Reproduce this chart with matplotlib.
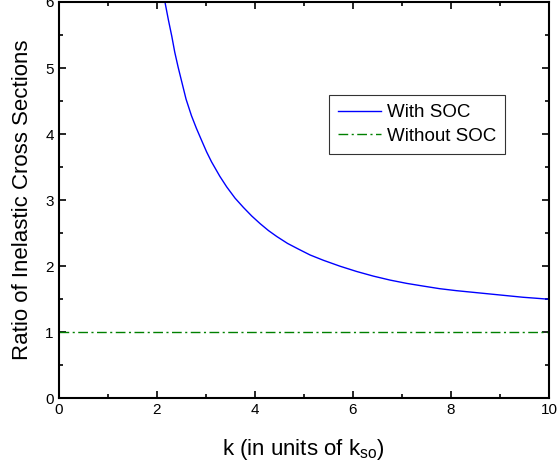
import matplotlib
matplotlib.use('Agg')
import matplotlib.pyplot as plt
from matplotlib.ticker import MultipleLocator

plt.rcParams['font.family'] = ['Liberation Sans', 'DejaVu Sans']

# values
k_soc = [2.17, 2.24, 2.31, 2.37, 2.44, 2.52, 2.60, 2.71, 2.81, 2.92, 3.02,
         3.12, 3.29, 3.43, 3.60, 3.77, 3.94, 4.11, 4.28, 4.45, 4.67, 4.89,
         5.13, 5.40, 5.74, 6.08, 6.42, 6.76, 7.10, 7.43, 7.77, 8.11, 8.45,
         8.79, 9.13, 9.47, 9.74, 10.0]
ratio_soc = [6.00, 5.73, 5.48, 5.24, 5.01, 4.77, 4.53, 4.28, 4.09, 3.90, 3.73,
             3.58, 3.36, 3.20, 3.03, 2.89, 2.76, 2.645, 2.54, 2.45, 2.345, 2.26,
             2.17, 2.09, 2.00, 1.92, 1.85, 1.79, 1.74, 1.70, 1.66, 1.63, 1.605,
             1.58, 1.555, 1.53, 1.515, 1.50]
k_nosoc = [0.0, 10.0]
ratio_nosoc = [1.0, 1.0]

fig = plt.figure(figsize=(5.59, 4.65), dpi=100)
ax = fig.add_axes([0.1047, 0.1434, 0.8773, 0.8523])

ax.plot(k_soc, ratio_soc, color='#0000ff', lw=1.0, label='With SOC')
ax.plot(k_nosoc, ratio_nosoc, color='#008000', lw=1.0, dashes=(7, 2.5, 1.5, 2.5),
        label='Without SOC')

ax.set_xlim(0, 10)
ax.set_ylim(0, 6)
ax.xaxis.set_major_locator(MultipleLocator(2))
ax.xaxis.set_minor_locator(MultipleLocator(1))
ax.yaxis.set_major_locator(MultipleLocator(1))
ax.yaxis.set_minor_locator(MultipleLocator(0.5))
ax.tick_params(which='both', direction='in', top=True, right=True,
               labelsize=11, width=1.2)
ax.tick_params(which='major', length=5)
ax.tick_params(which='minor', length=3)
for s in ax.spines.values():
    s.set_linewidth(1.5)

ax.set_xlabel(r'k (in units of k$_{\mathregular{so}}$)', fontsize=16, labelpad=14)
ax.set_ylabel('Ratio of Inelastic Cross Sections', fontsize=16, labelpad=9)

leg = ax.legend(loc='upper left', bbox_to_anchor=(0.551, 0.766), fontsize=13.5,
                frameon=True, fancybox=False, edgecolor='black',
                handlelength=2.3, handletextpad=0.3, borderpad=0.5,
                labelspacing=0.35, borderaxespad=0)
leg.get_frame().set_linewidth(0.8)

fig.savefig('out.png', dpi=100)
